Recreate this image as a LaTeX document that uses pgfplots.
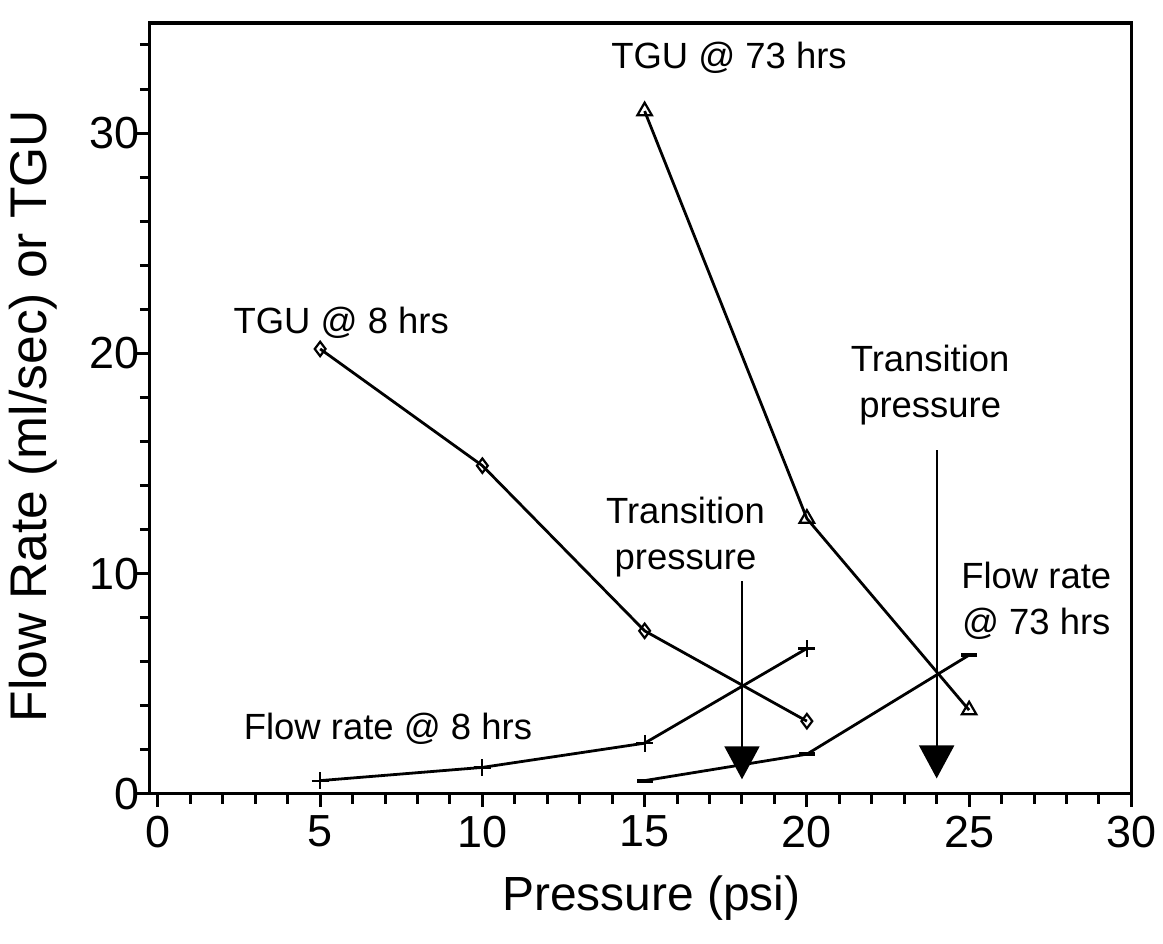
\documentclass[border=0pt]{standalone}
\usepackage{fontspec}
\setmainfont{Liberation Sans}
\usepackage{pgfplots}
\pgfplotsset{compat=1.18}
\usetikzlibrary{arrows.meta}
\begin{document}
\begin{tikzpicture}
\begin{axis}[
  scale only axis, width=491.5pt, height=386pt,
  xmin=-0.25, xmax=30, ymin=0, ymax=35,
  axis line style={line width=1.6pt},
  xtick={0,5,...,30}, minor xtick={0,1,...,30},
  ytick={0,10,20,30}, minor ytick={0,2,...,34},
  tick align=outside, xtick pos=bottom, ytick pos=left,
  major tick length=6.5pt, minor tick length=5pt,
  every tick/.style={line width=1.5pt, black},
  every minor tick/.style={line width=1.5pt, black},
  tick label style={font=\fontsize{22.5}{26}\selectfont},
  yticklabel style={xshift=5pt},
  xticklabel style={yshift=-1pt},
  /pgf/number format/assume math mode=true,
  xlabel={Pressure (psi)}, ylabel={Flow Rate (ml/sec) or TGU},
  xlabel style={font=\fontsize{24}{28}\selectfont, at={(axis description cs:0.511,-0.1516)}, anchor=base},
  ylabel style={font=\fontsize{25.8}{30}\selectfont, at={(axis description cs:-0.119,0.49)}, anchor=center},
  clip=false,
  every axis plot/.append style={line width=1.4pt, black},
]
% TGU @ 8 hrs
\addplot[mark=diamond, mark size=3.6pt, mark options={fill=white, line width=1.1pt}] coordinates {(5,20.2) (10,14.9) (15,7.4) (20,3.3)};
% TGU @ 73 hrs
\addplot[mark=triangle, mark size=4.2pt, mark options={fill=white, line width=1.1pt}] coordinates {(15,31.0) (20,12.5) (25,3.8)};
% Flow rate @ 8 hrs
\addplot[mark=+, mark size=4.2pt, mark options={line width=1.1pt}] coordinates {(5,0.6) (10,1.2) (15,2.3) (20,6.6)};
% Flow rate @ 73 hrs
\addplot[mark=-, mark size=4pt, mark options={line width=2pt}] coordinates {(15,0.6) (20,1.8) (25,6.3)};
% arrows
\draw[line width=1pt, -{Triangle[width=17.5pt,length=16.5pt]}] (axis cs:18,9.65) -- (axis cs:18,0.66);
\draw[line width=1pt, -{Triangle[width=17.5pt,length=16.5pt]}] (axis cs:24,15.6) -- (axis cs:24,0.7);
% labels
\node[font=\fontsize{18.25}{23}\selectfont] at (axis cs:5.65,21.4) {TGU @ 8 hrs};
\node[font=\fontsize{18.25}{23}\selectfont] at (axis cs:17.6,33.4) {TGU @ 73 hrs};
\node[font=\fontsize{18.25}{23}\selectfont, align=center] at (axis cs:16.26,11.67) {Transition\\pressure};
\node[font=\fontsize{18.25}{23}\selectfont, align=center] at (axis cs:23.8,18.56) {Transition\\pressure};
\node[font=\fontsize{18.25}{23}\selectfont, align=center] at (axis cs:27.07,8.75) {Flow rate\\@ 73 hrs};
\node[font=\fontsize{18.25}{23}\selectfont] at (axis cs:7.09,2.94) {Flow rate @ 8 hrs};
\end{axis}
\path[use as bounding box] ([shift={(-75pt,-75pt)}]current axis.south west) rectangle ([shift={(15pt,11.5pt)}]current axis.north east);
\end{tikzpicture}
\end{document}
